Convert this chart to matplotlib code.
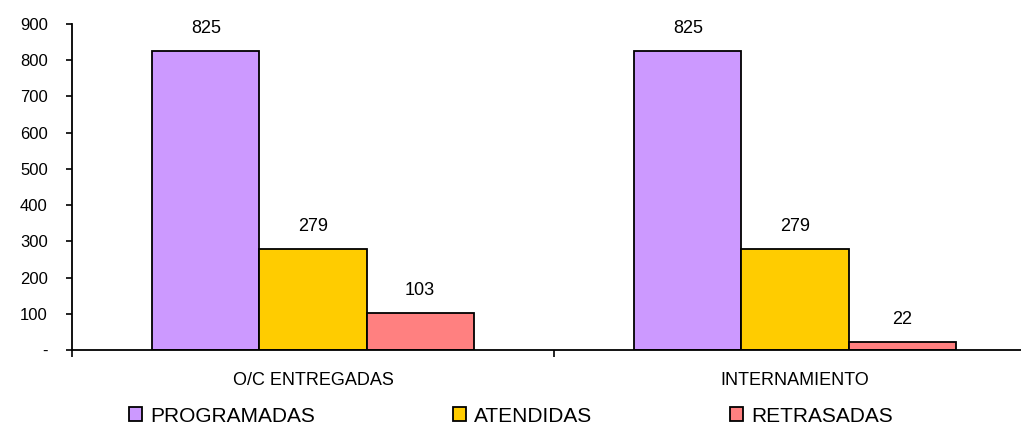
import matplotlib.pyplot as plt
import numpy as np
from matplotlib.patches import Patch

plt.rcParams['font.family'] = ['Liberation Sans', 'DejaVu Sans']

categories = ['O/C ENTREGADAS', 'INTERNAMIENTO']
series = ['PROGRAMADAS', 'ATENDIDAS', 'RETRASADAS']
programadas = [825, 825]
atendidas = [279, 279]
retrasadas = [103, 22]
colors = ['#CC99FF', '#FFCC00', '#FF8080']
y_ticks = [0, 100, 200, 300, 400, 500, 600, 700, 800, 900]
y_labels = ['-', '100', '200', '300', '400', '500', '600', '700', '800', '900']

fig = plt.figure(figsize=(10.21, 4.28), dpi=100)
ax = fig.add_axes([72 / 1021, 1 - 350 / 428, (1036 - 72) / 1021, (350 - 24) / 428])

x = np.arange(len(categories))
w = 0.222
handles = []
for i, (vals, c, name) in enumerate(zip([programadas, atendidas, retrasadas], colors, series)):
    bars = ax.bar(x + (i - 1) * w, vals, w, color=c, edgecolor='black', linewidth=1.3)
    for b, v in zip(bars, vals):
        ax.text(b.get_x() + b.get_width() / 2, v + 38, str(v), ha='center', va='bottom', fontsize=13)
    handles.append(Patch(facecolor=c, edgecolor='black', linewidth=1.3, label=name))

ax.set_xlim(-0.5, 1.5)
ax.set_ylim(0, 900)
ax.set_yticks(y_ticks)
ax.set_yticklabels(y_labels, fontsize=12)
ax.tick_params(axis='y', direction='out', length=4.5, width=1.2, pad=13)

ax.set_xticks(x)
ax.set_xticklabels(categories, fontsize=13)
ax.tick_params(axis='x', which='major', length=0, pad=15.5)
ax.set_xticks([-0.5, 0.5, 1.5], minor=True)
ax.tick_params(axis='x', which='minor', direction='out', length=5, width=1.2)

for s in ['top', 'right']:
    ax.spines[s].set_visible(False)
for s in ['left', 'bottom']:
    ax.spines[s].set_linewidth(1.3)

fig.legend(handles=handles, loc='center left', bbox_to_anchor=(129 / 1021, 1 - 416 / 428),
           ncol=3, frameon=False, fontsize=15, handlelength=0.62, handleheight=0.62,
           handletextpad=0.4, columnspacing=6.6, borderaxespad=0, borderpad=0)

fig.savefig('out.png', dpi=100)
